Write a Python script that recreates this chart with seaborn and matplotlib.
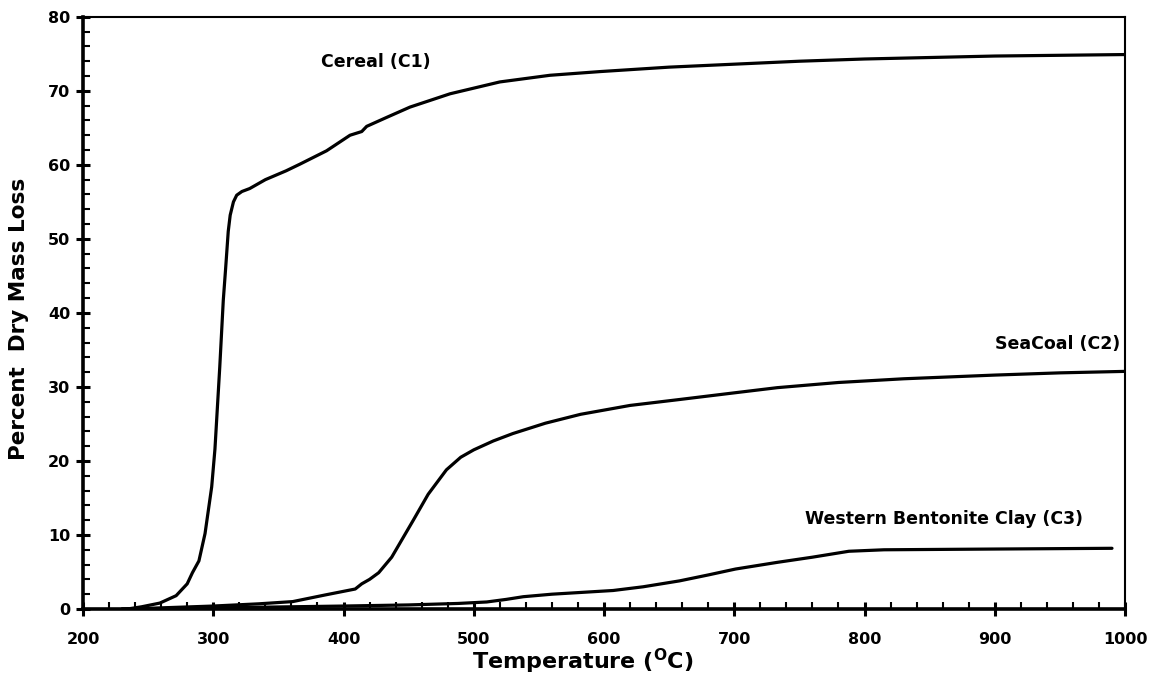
import numpy as np
import pandas as pd
import seaborn as sns
import matplotlib.pyplot as plt
from matplotlib.ticker import MultipleLocator

# 曲线数据
cereal_T = [230, 236, 245, 259, 271.5, 280, 284, 289, 293.7, 298.8, 301.3, 305, 307.7,
            309.5, 311.5, 313, 315.5, 318, 322, 328, 340, 356, 366.6, 387, 405, 414,
            417.8, 433, 451, 481.8, 520, 558.5, 597, 650, 700, 750, 800, 850, 900, 950, 1000]
cereal_y = [0, 0.05, 0.3, 0.8, 1.8, 3.4, 4.9, 6.5, 10.2, 16.5, 21.6, 32.7, 41.7,
            46, 51, 53.2, 55.0, 55.9, 56.4, 56.8, 58.0, 59.2, 60.1, 61.9, 64.0, 64.5,
            65.2, 66.4, 67.8, 69.6, 71.2, 72.1, 72.6, 73.2, 73.6, 74.0, 74.3, 74.5, 74.7, 74.8, 74.9]

seacoal_T = [235, 300, 335, 361, 386, 409, 414, 420, 427, 437, 453.6, 465, 479, 490, 500,
             515, 530, 555, 582, 620, 658, 700, 733, 780, 830, 900, 950, 1000]
seacoal_y = [0, 0.4, 0.7, 1.0, 1.9, 2.7, 3.4, 4.0, 4.9, 7.0, 12.0, 15.5, 18.8, 20.5, 21.5,
             22.7, 23.7, 25.1, 26.3, 27.5, 28.3, 29.2, 29.9, 30.6, 31.1, 31.6, 31.9, 32.1]

clay_T = [230, 300, 400, 450, 488, 510, 525, 538, 560, 607, 630, 658, 680, 701, 733, 760,
          788, 815, 900, 990]
clay_y = [0, 0.15, 0.4, 0.55, 0.75, 0.95, 1.3, 1.66, 2.0, 2.5, 3.0, 3.8, 4.6, 5.4, 6.3, 7.0,
          7.8, 8.0, 8.1, 8.2]

series_names = ['Cereal (C1)', 'SeaCoal (C2)', 'Western Bentonite Clay (C3)']
label_pos = [(425, 73.9), (948, 35.8), (861, 12.1)]

sns.set_style('ticks')
plt.rcParams['font.family'] = ['DejaVu Sans']
plt.rcParams['font.weight'] = 'bold'
plt.rcParams['mathtext.fontset'] = 'custom'
plt.rcParams['mathtext.bf'] = 'DejaVu Sans:bold'
plt.rcParams['mathtext.rm'] = 'DejaVu Sans:bold'
for k in ['text.color', 'axes.labelcolor', 'xtick.color', 'ytick.color', 'axes.edgecolor']:
    plt.rcParams[k] = 'black'

fig = plt.figure(figsize=(11.56, 7.0), dpi=100)
ax = fig.add_axes([0.0718, 0.13, 0.9014, 0.846])

for T, y in [(cereal_T, cereal_y), (seacoal_T, seacoal_y), (clay_T, clay_y)]:
    sns.lineplot(x=T, y=y, color='black', linewidth=2.3, ax=ax, sort=False)

for name, (tx, ty) in zip(series_names, label_pos):
    ax.text(tx, ty, name, ha='center', va='center', fontsize=12.5, fontweight='bold')

ax.set_xlim(200, 1000)
ax.set_ylim(0, 80)
ax.xaxis.set_major_locator(MultipleLocator(100))
ax.xaxis.set_minor_locator(MultipleLocator(20))
ax.yaxis.set_major_locator(MultipleLocator(10))
ax.yaxis.set_minor_locator(MultipleLocator(2))

ax.tick_params(which='major', direction='inout', length=10.5, width=2.2, labelsize=11.5)
ax.tick_params(axis='x', which='major', pad=11)
ax.tick_params(axis='y', which='major', pad=4)
ax.tick_params(which='minor', direction='in', length=5, width=1.5)
for t in ax.get_xticklabels() + ax.get_yticklabels():
    t.set_fontweight('bold')

for s in ['left', 'bottom']:
    ax.spines[s].set_linewidth(2.6)
for s in ['top', 'right']:
    ax.spines[s].set_linewidth(1.5)

ax.set_xlabel('Temperature ($^{\\mathbf{O}}$C)', fontsize=16, fontweight='bold')
ax.set_ylabel('Percent  Dry Mass Loss', fontsize=15.5, fontweight='bold')
ax.xaxis.set_label_coords(0.48, -0.064)
ax.yaxis.set_label_coords(-0.052, 0.49)

plt.savefig('out.png', dpi=100)
